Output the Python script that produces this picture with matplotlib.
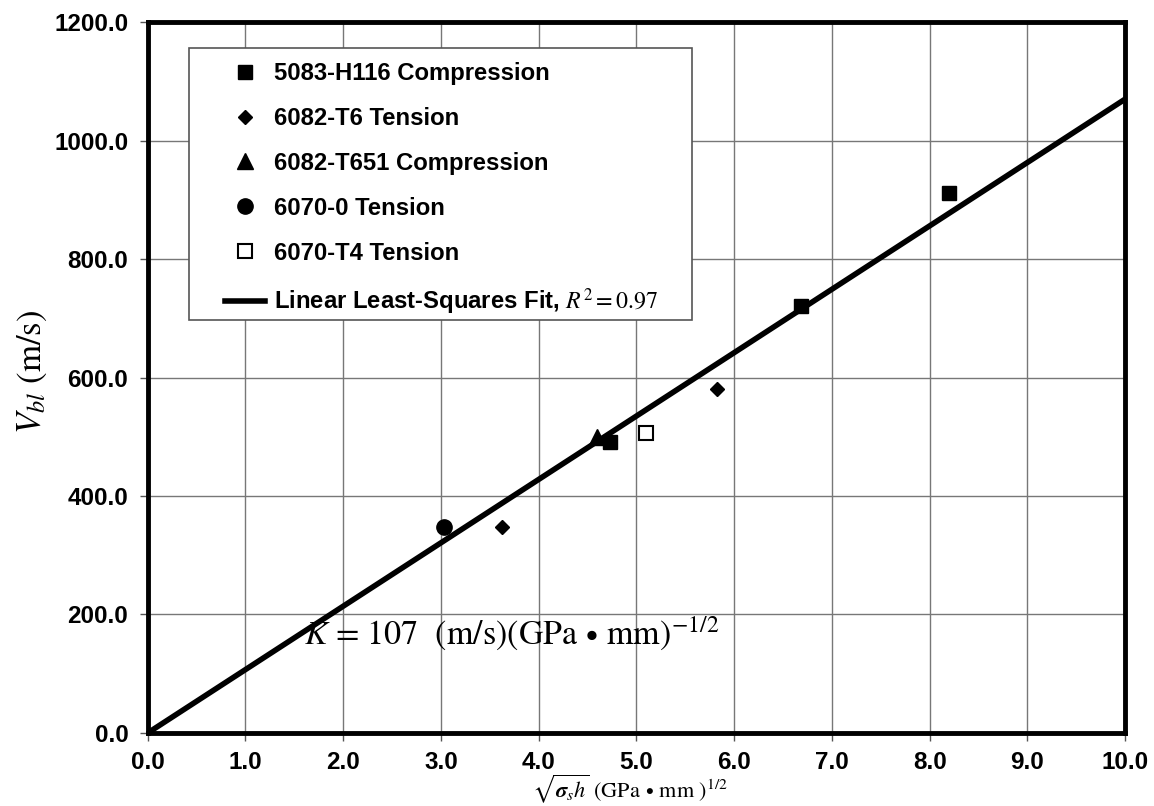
import matplotlib
matplotlib.use("Agg")
import matplotlib.pyplot as plt
from matplotlib.patches import Rectangle
import numpy as np

plt.rcParams['font.family'] = ['Liberation Sans', 'DejaVu Sans']
plt.rcParams['mathtext.fontset'] = 'stix'

# Data
s5083_x = [4.73, 6.68, 8.20]
s5083_y = [492, 720, 912]
s6082t6_x = [3.62, 5.82]
s6082t6_y = [347, 580]
s6082t651_x = [4.60]
s6082t651_y = [500]
s6070_0_x = [3.03]
s6070_0_y = [348]
s6070t4_x = [5.10]
s6070t4_y = [507]
K = 107.0
fit_x = [0.0, 10.0]

xticks = np.arange(0, 10.01, 1.0)
yticks = np.arange(0, 1200.1, 200.0)

fig = plt.figure(figsize=(11.54, 8.06), dpi=100)
ax = fig.add_axes([0.128, 0.0906, 0.847, 0.882])

ax.plot(fit_x, [K * v for v in fit_x], color='black', lw=4, zorder=3,
        label=r'Linear Least-Squares Fit, $R^2 = 0.97$')
ax.plot(s5083_x, s5083_y, 's', color='black', ms=10, ls='none', zorder=4,
        label='5083-H116 Compression')
ax.plot(s6082t6_x, s6082t6_y, 'D', color='black', ms=7.5, ls='none', zorder=4,
        label='6082-T6 Tension')
ax.plot(s6082t651_x, s6082t651_y, '^', color='black', ms=11, ls='none', zorder=4,
        label='6082-T651 Compression')
ax.plot(s6070_0_x, s6070_0_y, 'o', color='black', ms=11, ls='none', zorder=4,
        label='6070-0 Tension')
ax.plot(s6070t4_x, s6070t4_y, 's', mfc='white', mec='black', mew=1.5, ms=10,
        ls='none', zorder=4, label='6070-T4 Tension')

ax.set_xlim(0, 10)
ax.set_ylim(0, 1200)
ax.set_xticks(xticks)
ax.set_yticks(yticks)
ax.set_xticklabels([f'{v:.1f}' for v in xticks], fontsize=17.5, fontweight='bold')
ax.set_yticklabels([f'{v:.1f}' for v in yticks], fontsize=17.5, fontweight='bold')
ax.tick_params(axis='x', direction='out', length=6, width=1, color='#555555', pad=7)
ax.tick_params(axis='y', direction='out', length=6, width=1, color='#555555', pad=8)
ax.grid(True, color='#777777', lw=1)
ax.set_axisbelow(True)
for sp in ax.spines.values():
    sp.set_linewidth(3.5)

fig.text(32 / 1154, 1 - 372 / 806, r'$V_{bl}$ (m/s)', fontsize=25,
         family='STIXGeneral', rotation=90, ha='center', va='center')
fig.text(630 / 1154, 1 / 806,
         r'$\sqrt{\boldsymbol{\sigma}_s h}$ (GPa$\,\bullet\,$mm )$^{1/2}$',
         fontsize=16, family='STIXGeneral', ha='center', va='bottom')

ax.text(1.6, 167, r'$K$ = 107  (m/s)(GPa$\,\bullet\,$mm)$^{-1/2}$',
        fontsize=24.5, family='STIXGeneral', va='center', ha='left', zorder=5)

# legend frame drawn separately for exact padding
frame = Rectangle((0.042, 0.581), 0.515, 0.3824, transform=ax.transAxes,
                  facecolor='white', edgecolor='#555555', lw=1.2, zorder=6)
ax.add_patch(frame)

handles, labels = ax.get_legend_handles_labels()
order = [1, 2, 3, 4, 5, 0]
leg = ax.legend([handles[i] for i in order], [labels[i] for i in order],
                loc='upper left', bbox_to_anchor=(0.0788, 0.944),
                prop={'weight': 'bold', 'size': 17.2}, frameon=False,
                labelspacing=0.92, borderpad=0, handlelength=1.7,
                handletextpad=0.35, borderaxespad=0)
leg.set_zorder(7)

fig.savefig('out.png', dpi=100)
